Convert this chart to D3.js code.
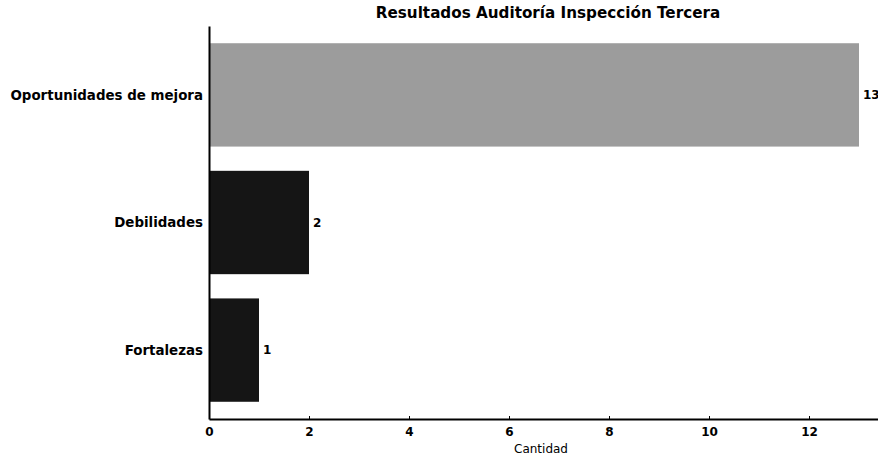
<!DOCTYPE html>
<html>
<head>
<meta charset="utf-8">
<script src="https://cdn.jsdelivr.net/npm/d3@7"></script>
<style>
  body { margin: 0; background: #fff; }
  text { font-family: "DejaVu Sans", sans-serif; }
</style>
</head>
<body>
<div id="chart"></div>
<script>
(function(d3) {
  'use strict';

  var width = 878;
  var height = 457;

  // data
  var categories = ['Fortalezas', 'Debilidades', 'Oportunidades de mejora'];
  var values = [1, 2, 13];
  var barColors = ['#151515', '#151515', '#9c9c9c'];
  var xTicks = [0, 2, 4, 6, 8, 10, 12];

  var left = 209, right = 891;   // plot area (cut off at the right edge like the picture)
  var top = 26, bottom = 419;

  var svg = d3.select('#chart')
    .append('svg')
    .attr('width', width)
    .attr('height', height);

  var x = d3.scaleLinear()
    .domain([0, 13.64])
    .range([left, right]);

  // bar positions as in matplotlib barh: centres at 0,1,2 with height 0.8
  var y = d3.scaleLinear()
    .domain([-0.54, 2.54])
    .range([bottom, top]);
  var barH = 0.81;

  var g = svg.append('g');

  g.selectAll('rect.bar')
    .data(values)
    .enter()
    .append('rect')
    .attr('class', 'bar')
    .attr('x', x(0))
    .attr('y', function(d, i) { return y(i + barH / 2); })
    .attr('width', function(d) { return x(d) - x(0); })
    .attr('height', function(d, i) { return y(i - barH / 2) - y(i + barH / 2); })
    .attr('fill', function(d, i) { return barColors[i]; });

  // value labels
  g.selectAll('text.val')
    .data(values)
    .enter()
    .append('text')
    .attr('class', 'val')
    .attr('x', function(d) { return x(d) + 4; })
    .attr('y', function(d, i) { return y(i); })
    .attr('dy', '0.35em')
    .style('font-size', '12px')
    .style('font-weight', 'bold')
    .text(function(d) { return d; });

  // x axis
  var xAxis = d3.axisBottom(x)
    .tickValues(xTicks)
    .tickSizeInner(-3)
    .tickSizeOuter(0)
    .tickPadding(8);

  var xg = svg.append('g')
    .attr('transform', 'translate(0,' + bottom + ')')
    .call(xAxis);
  xg.select('.domain').attr('stroke', '#000').attr('stroke-width', 2);
  xg.selectAll('text')
    .style('font-size', '12px')
    .style('font-weight', 'bold')
    .attr('fill', '#000');

  // y axis
  var yAxis = d3.axisLeft(y)
    .tickValues(d3.range(categories.length))
    .tickFormat(function(d) { return categories[d]; })
    .tickSizeInner(0)
    .tickSizeOuter(0)
    .tickPadding(6);

  var yg = svg.append('g')
    .attr('transform', 'translate(' + left + ',0)')
    .call(yAxis);
  yg.select('.domain').attr('stroke', '#000').attr('stroke-width', 2);
  yg.selectAll('text')
    .style('font-size', '13.4px')
    .style('font-weight', 'bold')
    .attr('fill', '#000');

  // titles
  svg.append('text')
    .attr('x', 548)
    .attr('y', 18)
    .attr('text-anchor', 'middle')
    .style('font-size', '15.2px')
    .style('font-weight', 'bold')
    .text('Resultados Auditoría Inspección Tercera');

  svg.append('text')
    .attr('x', 541)
    .attr('y', 453)
    .attr('text-anchor', 'middle')
    .style('font-size', '12px')
    .text('Cantidad');

})(window.d3);
</script>
</body>
</html>
